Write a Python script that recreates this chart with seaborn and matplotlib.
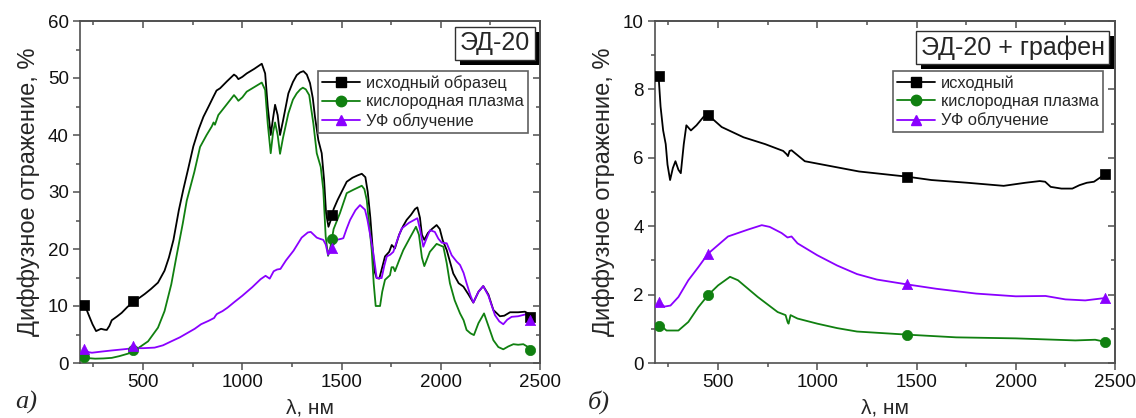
import numpy as np
import pandas as pd
import matplotlib
matplotlib.use("Agg")
import matplotlib.pyplot as plt
import seaborn as sns
from matplotlib.lines import Line2D
from matplotlib import patheffects as pe
from matplotlib.ticker import MultipleLocator

# ---------------- data: panel a) ЭД-20 ----------------
a_black_x = [200,208,225,245,263,288,305,317,330,342,370,392,420,453,480,508,540,575,608,630,653,680,703,728,753,780,804,830,854,870,888,905,922,940,958,970,980,1000,1022,1060,1098,1115,1128,1143,1155,1165,1178,1190,1205,1232,1255,1274,1292,1308,1325,1341,1355,1366,1383,1400,1412,1422,1434,1445,1460,1480,1500,1526,1555,1580,1602,1620,1632,1645,1657,1667,1677,1690,1705,1719,1740,1753,1769,1790,1810,1828,1850,1870,1882,1895,1905,1917,1935,1955,1979,1995,2010,2030,2063,2090,2114,2140,2164,2190,2214,2240,2265,2298,2320,2349,2390,2424,2440,2450]
a_black_y = [10.2,10.0,8.5,6.8,5.6,6.0,5.85,5.8,6.5,7.5,8.2,8.8,9.8,10.8,11.4,12.1,13.0,14.1,16.2,18.5,21.6,26.8,30.5,34.2,38.0,41.0,43.2,45.0,46.7,47.8,48.2,48.8,49.4,50.0,50.6,50.3,49.8,50.2,50.8,51.6,52.5,50.8,45.0,40.0,43.0,45.3,43.5,40.0,42.5,47.3,49.3,50.5,51.0,51.2,50.6,49.1,46.5,43.2,39.1,36.8,32.1,26.3,23.9,25.0,27.0,28.6,30.0,31.8,32.5,32.9,33.2,32.6,30.0,25.5,20.0,16.0,14.9,14.8,16.8,18.7,19.5,20.7,20.1,22.5,24.0,25.1,26.0,27.0,27.3,25.5,22.5,21.6,22.8,23.5,24.2,23.5,21.5,19.8,15.7,14.0,13.4,12.0,10.6,12.5,13.5,12.0,9.3,8.2,8.3,8.9,8.9,9.0,8.7,8.1]

a_green_x = [200,208,258,300,342,380,425,450,475,525,575,608,642,667,700,720,758,787,820,846,855,862,879,913,940,958,970,980,1000,1022,1060,1098,1115,1128,1143,1155,1165,1178,1190,1205,1232,1255,1274,1292,1305,1320,1337,1358,1375,1395,1408,1420,1432,1445,1460,1492,1526,1560,1602,1615,1627,1640,1652,1662,1672,1694,1705,1719,1744,1752,1761,1769,1790,1811,1845,1875,1890,1905,1917,1945,1979,2013,2030,2046,2070,2097,2115,2130,2150,2167,2190,2218,2240,2265,2290,2315,2340,2366,2390,2416,2440,2450]
a_green_y = [1.1,0.9,0.76,0.8,0.9,1.2,1.65,2.3,2.6,3.8,6.2,9.1,13.8,18.5,24.5,28.5,33.5,37.9,40.0,41.5,42.2,41.8,43.5,45.0,46.2,47.0,46.5,46.0,46.6,47.6,48.4,49.2,47.9,42.0,36.8,40.5,42.2,40.0,36.7,39.5,43.8,46.2,47.3,48.0,48.3,48.0,47.0,42.0,36.8,34.4,30.4,22.2,18.8,20.5,23.5,26.3,29.8,30.4,31.1,30.5,28.6,24.0,19.8,14.0,10.0,10.0,12.5,14.6,15.4,16.8,16.8,16.1,18.0,19.8,22.0,23.9,22.5,18.5,17.0,19.5,20.9,20.4,17.5,14.0,11.0,8.7,7.5,5.8,5.2,4.9,7.0,8.7,6.5,4.0,2.8,2.4,2.9,3.3,3.2,3.3,2.8,2.3]

a_violet_x = [200,208,225,242,290,342,400,453,500,558,600,642,685,725,760,792,830,858,865,872,900,925,960,1000,1050,1092,1117,1138,1158,1175,1192,1220,1258,1299,1330,1345,1360,1375,1390,1408,1420,1432,1445,1455,1475,1500,1509,1525,1543,1570,1593,1618,1630,1643,1660,1677,1702,1715,1728,1745,1761,1780,1803,1840,1882,1895,1912,1930,1946,1970,1988,2005,2030,2055,2080,2097,2115,2130,2150,2164,2190,2214,2240,2273,2295,2315,2335,2357,2390,2424,2440,2450]
a_violet_y = [2.5,2.35,1.9,1.8,2.0,2.2,2.4,2.6,2.6,2.7,3.1,3.8,4.5,5.3,6.0,6.8,7.4,7.9,8.3,8.6,9.1,9.7,10.7,11.8,13.3,14.7,15.3,14.8,16.1,16.4,16.5,18.0,19.7,22.0,22.9,23.0,22.5,22.0,21.8,21.6,20.8,19.0,19.6,20.5,21.6,21.8,21.9,23.5,25.1,26.8,27.7,26.9,25.2,22.7,19.3,14.9,14.9,17.0,18.7,19.0,19.5,21.5,23.6,24.6,25.4,23.5,20.4,22.0,23.3,23.0,21.8,21.1,21.0,18.9,17.8,17.2,15.8,14.0,11.8,10.6,12.5,13.5,11.8,8.4,7.3,6.8,7.6,8.1,8.2,8.5,8.7,7.7]

a_mark_x = [200, 450, 1450, 2450]
a_mark_black = [10.2, 10.9, 26.0, 8.1]
a_mark_green = [1.1, 2.3, 21.8, 2.2]
a_mark_violet = [2.5, 2.9, 20.2, 7.6]

# ---------------- data: panel б) ЭД-20 + графен ----------------
b_black_x = [200,210,223,236,245,258,272,285,300,312,327,340,363,391,427,450,518,628,737,828,846,852,860,870,937,1028,1210,1450,1575,1757,1939,2048,2121,2148,2176,2230,2285,2321,2358,2394,2450]
b_black_y = [8.4,7.5,6.8,6.4,5.8,5.35,5.7,5.9,5.65,5.55,6.4,6.95,6.8,6.95,7.2,7.25,6.9,6.6,6.4,6.2,6.1,6.05,6.2,6.22,5.9,5.8,5.6,5.45,5.35,5.27,5.18,5.27,5.32,5.3,5.15,5.1,5.1,5.2,5.27,5.3,5.52]

b_green_x = [200,220,240,300,350,400,450,500,560,600,700,800,840,850,855,865,900,1000,1100,1200,1450,1700,2000,2300,2400,2450]
b_green_y = [1.08,1.05,0.95,0.95,1.2,1.63,1.99,2.27,2.52,2.42,1.93,1.49,1.4,1.2,1.15,1.4,1.3,1.15,1.02,0.92,0.83,0.75,0.72,0.66,0.68,0.62]

b_violet_x = [200,230,260,300,350,400,450,500,550,600,650,720,760,820,850,870,900,1000,1100,1200,1300,1450,1600,1800,2000,2150,2250,2350,2450]
b_violet_y = [1.78,1.65,1.68,1.93,2.42,2.8,3.2,3.45,3.7,3.8,3.9,4.03,3.98,3.8,3.67,3.7,3.5,3.15,2.85,2.6,2.44,2.3,2.17,2.03,1.95,1.96,1.86,1.83,1.9]

b_mark_x = [200, 450, 1450, 2450]
b_mark_black = [8.4, 7.25, 5.45, 5.52]
b_mark_green = [1.08, 1.99, 0.83, 0.62]
b_mark_violet = [1.78, 3.2, 2.3, 1.9]

labels_a = ["исходный образец", "кислородная плазма", "УФ облучение"]
labels_b = ["исходный", "кислородная плазма", "УФ облучение"]
titles = ["ЭД-20", "ЭД-20 + графен"]
xlabel = "λ, нм"
ylabel = "Диффузное отражение, %"

# ---------------- style ----------------
sns.set_theme(style="ticks")
plt.rcParams['font.family'] = ['Liberation Sans', 'DejaVu Sans']
COL = ["#000000", "#108010", "#8a00ff"]
MARK = ["s", "o", "^"]
SPINE = "#505050"

fig = plt.figure(figsize=(11.36, 4.18), dpi=100)
ax1 = fig.add_axes([80/1136, 55/418, 460/1136, 342/418])
ax2 = fig.add_axes([655/1136, 55/418, 460/1136, 342/418])

def draw(ax, xs, ys, mx, mys, labels, title, ylim, ymaj, ymin, tpos):
    for i in range(3):
        df = pd.DataFrame({"x": xs[i], "y": ys[i]})
        sns.lineplot(data=df, x="x", y="y", ax=ax, color=COL[i], lw=1.3,
                     estimator=None, sort=False, legend=False)
        dm = pd.DataFrame({"x": mx, "y": mys[i]})
        sns.scatterplot(data=dm, x="x", y="y", ax=ax, color=COL[i], marker=MARK[i],
                        s=55, edgecolor=COL[i], linewidth=0.5, legend=False, zorder=5)
    ax.set_xlim(182, 2500)
    ax.set_ylim(*ylim)
    ax.xaxis.set_major_locator(MultipleLocator(500))
    ax.xaxis.set_minor_locator(MultipleLocator(250))
    ax.yaxis.set_major_locator(MultipleLocator(ymaj))
    ax.yaxis.set_minor_locator(MultipleLocator(ymin))
    for sp in ax.spines.values():
        sp.set_visible(True)
        sp.set_color(SPINE)
        sp.set_linewidth(1.2)
    ax.tick_params(which="both", direction="out", color=SPINE, width=1.1,
                   top=False, right=False, labelsize=13.5, labelcolor="#111111", pad=3)
    ax.tick_params(which="major", length=5)
    ax.tick_params(which="minor", length=3)
    # mirrored inward ticks on top and right
    axt = ax.secondary_xaxis("top")
    axt.xaxis.set_major_locator(MultipleLocator(500))
    axt.xaxis.set_minor_locator(MultipleLocator(250))
    axt.tick_params(which="both", direction="in", color=SPINE, width=1.1, labeltop=False)
    axt.tick_params(which="major", length=5)
    axt.tick_params(which="minor", length=3)
    axr = ax.secondary_yaxis("right")
    axr.yaxis.set_major_locator(MultipleLocator(ymaj))
    axr.yaxis.set_minor_locator(MultipleLocator(ymin))
    axr.tick_params(which="both", direction="in", color=SPINE, width=1.1, labelright=False)
    axr.tick_params(which="major", length=5)
    axr.tick_params(which="minor", length=3)
    for s in list(axt.spines.values()) + list(axr.spines.values()):
        s.set_color(SPINE)
        s.set_linewidth(1.2)
    ax.set_xlabel(xlabel, fontsize=15, labelpad=5)
    ax.set_ylabel(ylabel, fontsize=17, labelpad=6)
    handles = [Line2D([0], [0], color=COL[i], lw=1.3, marker=MARK[i], markersize=7.5)
               for i in range(3)]
    leg = ax.legend(handles, labels, loc="upper right", bbox_to_anchor=(0.973, 0.853),
                    fontsize=11.8, frameon=True, fancybox=False, framealpha=1,
                    edgecolor="#606060", borderpad=0.25, labelspacing=0.2,
                    handlelength=2.3, handletextpad=0.35, borderaxespad=0)
    leg.get_frame().set_linewidth(1.2)
    t = ax.text(tpos[0], tpos[1], title, transform=ax.transAxes, fontsize=18,
                ha="center", va="center", zorder=10,
                bbox=dict(boxstyle="square,pad=0.18", fc="white", ec="#303030", lw=1.0))
    t.get_bbox_patch().set_path_effects([pe.SimplePatchShadow(offset=(3.5, -3.5), shadow_rgbFace="black", alpha=1.0), pe.Normal()])

draw(ax1, [a_black_x, a_green_x, a_violet_x], [a_black_y, a_green_y, a_violet_y],
     a_mark_x, [a_mark_black, a_mark_green, a_mark_violet], labels_a, titles[0],
     (0, 60), 10, 5, (0.902, 0.935))
draw(ax2, [b_black_x, b_green_x, b_violet_x], [b_black_y, b_green_y, b_violet_y],
     b_mark_x, [b_mark_black, b_mark_green, b_mark_violet], labels_b, titles[1],
     (0, 10), 2, 1, (0.778, 0.922))

fig.text(15/1136, 4/418, "а)", fontsize=19, style="italic", family=["Liberation Serif", "DejaVu Serif"], ha="left", va="bottom")
fig.text(588/1136, 4/418, "б)", fontsize=19, style="italic", family=["Liberation Serif", "DejaVu Serif"], ha="left", va="bottom")

fig.savefig("out.png", dpi=100)
